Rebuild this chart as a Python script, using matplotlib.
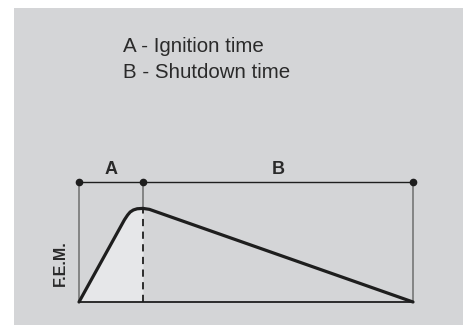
import matplotlib.pyplot as plt
import matplotlib as mpl
from matplotlib.patches import Rectangle

mpl.rcParams.update({'font.family': ['Liberation Sans', 'DejaVu Sans']})

PANEL = '#d4d5d7'; FILL = '#e6e7e9'; DARK = '#1e1e1e'; GREY = '#6e6e6e'; TXT = '#2a2a2a'

# time axis: A = ignition, B = shutdown (relative units)
t_ign = 1.0
t_off = 5.22
# e.m.f. curve (normalised to the top reference line)
curve_t = [0.0, 0.71, 0.76, 0.80, 0.85, 0.91, 1.0, 1.10, 5.22]
curve_v = [0.0, 0.685, 0.725, 0.75, 0.767, 0.777, 0.78, 0.772, 0.0]
legend_lines = ['A - Ignition time', 'B - Shutdown time']
marks_t = [0.0, t_ign, t_off]

fig = plt.figure(figsize=(4.64, 3.25), dpi=100)
fig.patch.set_facecolor('white')

# page layer in pixel units
bg = fig.add_axes([0, 0, 1, 1]); bg.set_xlim(0, 464); bg.set_ylim(325, 0); bg.axis('off')
bg.add_patch(Rectangle((14, 8), 450, 317, facecolor=PANEL, edgecolor='none'))
for i, s in enumerate(legend_lines):
    bg.text(123, 52 + i * 26, s, fontsize=14.8, color=TXT, ha='left', va='baseline')

# diagram
ax = fig.add_axes([79 / 464, 23 / 325, 334 / 464, 120 / 325])
ax.set_xlim(0, t_off); ax.set_ylim(0, 1); ax.axis('off')
ax.patch.set_alpha(0)

peak = curve_v[curve_t.index(t_ign)]
fill_t = [t for t in curve_t if t <= t_ign]
fill_v = curve_v[:len(fill_t)]
ax.fill_between(fill_t, fill_v, 0, color=FILL, lw=0, clip_on=False)

# frame lines
ax.plot([0, 0], [0, 1], color=GREY, lw=1.1, clip_on=False)
ax.plot([t_off, t_off], [0, 1], color=GREY, lw=1.1, clip_on=False)
ax.plot([t_ign, t_ign], [peak, 1], color=GREY, lw=1.1, clip_on=False)
ax.plot([0, t_off], [1, 1], color=DARK, lw=1.0, clip_on=False)
ax.plot([0, t_off], [0, 0], color=DARK, lw=1.3, clip_on=False)
ax.plot([t_ign, t_ign], [0, peak], color=DARK, lw=1.3, ls=(0, (4, 3)), clip_on=False)
ax.plot(marks_t, [1] * len(marks_t), 'o', color=DARK, ms=4.5, clip_on=False)

ax.plot(curve_t, curve_v, color=DARK, lw=2.3, solid_joinstyle='round', solid_capstyle='round', clip_on=False, zorder=5)

ax.text(t_ign / 2, 1.1, 'A', fontsize=13, fontweight='bold', color=TXT, ha='center', va='center')
ax.text((t_ign + t_off) / 2, 1.1, 'B', fontsize=13, fontweight='bold', color=TXT, ha='center', va='center')
ax.text(-0.29, 0.325, 'F.E.M.', fontsize=11.5, fontweight='bold', color=TXT, rotation=90, ha='center', va='center')

plt.savefig('out.png', dpi=100, facecolor='white')
plt.close()
